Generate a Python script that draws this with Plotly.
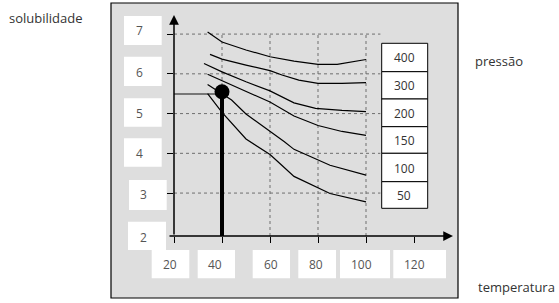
import plotly.graph_objects as go

# ---------------- data ----------------
pressures = ["400", "300", "200", "150", "100", "50"]

temp_400 = [34, 40, 50, 60, 70, 80, 88, 100]
sol_400 = [7.05, 6.8, 6.6, 6.43, 6.32, 6.24, 6.24, 6.36]

temp_300 = [35, 40, 50, 60, 65, 72, 80, 90, 100]
sol_300 = [6.49, 6.37, 6.22, 6.08, 5.97, 5.84, 5.76, 5.76, 5.78]

temp_200 = [32.5, 40, 50, 60, 70, 79, 90, 100]
sol_200 = [6.26, 6.05, 5.8, 5.57, 5.27, 5.13, 5.08, 5.05]

temp_150 = [34, 40, 50, 60, 70, 80, 90, 100]
sol_150 = [5.99, 5.83, 5.55, 5.29, 4.94, 4.7, 4.55, 4.45]

temp_100 = [34, 40, 44, 50, 60, 66, 70, 85, 100]
sol_100 = [5.73, 5.5, 5.34, 4.99, 4.56, 4.29, 4.1, 3.7, 3.45]

temp_50 = [34, 40, 50, 60, 64, 70, 85, 100]
sol_50 = [5.5, 5.03, 4.36, 3.97, 3.75, 3.42, 2.99, 2.78]

x_tick_labels = ["20", "40", "60", "80", "100", "120"]
x_tick_values = [20, 40, 60, 80, 100, 120]
y_tick_labels = ["7", "6", "5", "4", "3", "2"]
y_tick_values = [3, 4, 5, 6, 7]
grid_x = [40, 60, 80, 100]
grid_y = [3, 4, 5, 6, 7]

point_temp = 40
point_sol = 5.55
ref_sol = 5.49

x_title = "temperatura"
y_title = "solubilidade"
legend_title = "pressão"

# ---------------- layout helpers (pixel geometry) ----------------
W, H = 559, 303
PL, PR, PT, PB = 174, 453, 15, 236
x_range = [20, 136.25]
y_range = [1.92, 7.48]
grid_end_x = 106


def X(p):
    return (p - PL) / (PR - PL)


def Y(p):
    return (PB - p) / (PB - PT)


fig = go.Figure()

# dotted grid
gx, gy = [], []
for v in grid_y:
    gx += [x_range[0], grid_end_x, None]
    gy += [v, v, None]
for v in grid_x:
    gx += [v, v, None]
    gy += [y_range[0], max(grid_y), None]
fig.add_trace(go.Scatter(x=gx, y=gy, mode="lines",
                         line=dict(color="#6e6e6e", width=1, dash="dot"),
                         hoverinfo="skip", showlegend=False))

# reference lines to the point
fig.add_trace(go.Scatter(x=[x_range[0], point_temp], y=[ref_sol, ref_sol], mode="lines",
                         line=dict(color="#555555", width=1.5), showlegend=False))
fig.add_trace(go.Scatter(x=[point_temp, point_temp], y=[y_range[0], point_sol], mode="lines",
                         line=dict(color="black", width=4), showlegend=False))

curves = [(temp_400, sol_400), (temp_300, sol_300), (temp_200, sol_200),
          (temp_150, sol_150), (temp_100, sol_100), (temp_50, sol_50)]
for (tx, sy), name in zip(curves, pressures):
    fig.add_trace(go.Scatter(x=tx, y=sy, mode="lines", name=name,
                             line=dict(color="black", width=1.2),
                             showlegend=False))

fig.add_trace(go.Scatter(x=[point_temp], y=[point_sol], mode="markers",
                         marker=dict(color="black", size=15), showlegend=False))

shapes = []
# grey panel
shapes.append(dict(type="rect", xref="paper", yref="paper", x0=X(111), x1=X(458), y0=Y(298), y1=Y(3),
                   fillcolor="#dedede", line=dict(color="black", width=1.2), layer="below"))

# tick label boxes
y_boxes = [(124, 161.7, 16, 45), (124, 161.7, 56.7, 86), (124, 161.7, 98.3, 126.7),
           (124, 161.7, 138.3, 166.7), (129, 166.7, 180, 210), (128, 166, 221.7, 250)]
y_text_pos = [(139.3, 30.5), (139.5, 72), (139.3, 113), (139.3, 153.5), (143.7, 194.5), (143.3, 237)]
x_boxes = [(151.7, 189.3), (197.7, 235), (252.7, 290), (298.3, 336), (340, 390), (393.3, 446)]
x_text_pos = [170, 215.3, 270.5, 315.7, 361, 414]
x_box_y = (250, 278.3)

for (x0, x1, y0, y1) in y_boxes:
    shapes.append(dict(type="rect", xref="paper", yref="paper", x0=X(x0), x1=X(x1), y0=Y(y1), y1=Y(y0),
                       fillcolor="white", line=dict(width=0), layer="below"))
for (x0, x1) in x_boxes:
    shapes.append(dict(type="rect", xref="paper", yref="paper", x0=X(x0), x1=X(x1),
                       y0=Y(x_box_y[1]), y1=Y(x_box_y[0]),
                       fillcolor="white", line=dict(width=0), layer="below"))

# pressure boxes
leg_x0, leg_x1 = 381.7, 427.7
leg_rows = [43.3, 71.7, 99, 126.7, 153.3, 181.7, 208.3]
for i in range(len(pressures)):
    shapes.append(dict(type="rect", xref="paper", yref="paper", x0=X(leg_x0), x1=X(leg_x1),
                       y0=Y(leg_rows[i + 1]), y1=Y(leg_rows[i]),
                       fillcolor="white", line=dict(color="black", width=1), layer="above"))

annotations = []
num_font = dict(family="Open Sans", size=12, color="#555555")
txt_font = dict(family="Open Sans", size=13, color="#333333")
for lab, (tx, ty) in zip(y_tick_labels, y_text_pos):
    annotations.append(dict(text=lab, x=X(tx), y=Y(ty), xref="paper", yref="paper",
                            showarrow=False, font=num_font, xanchor="center", yanchor="middle"))
for lab, tx in zip(x_tick_labels, x_text_pos):
    annotations.append(dict(text=lab, x=X(tx), y=Y(264.5), xref="paper", yref="paper",
                            showarrow=False, font=num_font, xanchor="center", yanchor="middle"))
for i, lab in enumerate(pressures):
    cy = (leg_rows[i] + leg_rows[i + 1]) / 2 + 0.5
    annotations.append(dict(text=lab, x=X(404), y=Y(cy), xref="paper", yref="paper",
                            showarrow=False, font=dict(family="Open Sans", size=12, color="#333333"),
                            xanchor="center", yanchor="middle"))

annotations.append(dict(text=y_title, x=X(45.5), y=Y(18), xref="paper", yref="paper",
                        showarrow=False, font=txt_font, xanchor="center", yanchor="middle"))
annotations.append(dict(text=legend_title, x=X(499), y=Y(61), xref="paper", yref="paper",
                        showarrow=False, font=txt_font, xanchor="center", yanchor="middle"))
annotations.append(dict(text=x_title, x=X(516), y=Y(287), xref="paper", yref="paper",
                        showarrow=False, font=txt_font, xanchor="center", yanchor="middle"))

# axis arrows
annotations.append(dict(text="", x=x_range[0], y=y_range[1], ax=x_range[0], ay=y_range[0],
                        xref="x", yref="y", axref="x", ayref="y", showarrow=True,
                        arrowhead=2, arrowsize=1.3, arrowwidth=1.5, arrowcolor="black", standoff=0))
annotations.append(dict(text="", x=x_range[1], y=y_range[0], ax=x_range[0] - 2.5, ay=y_range[0],
                        xref="x", yref="y", axref="x", ayref="y", showarrow=True,
                        arrowhead=2, arrowsize=1.3, arrowwidth=1.5, arrowcolor="black", standoff=0))

fig.update_layout(
    width=W, height=H,
    margin=dict(l=PL, r=W - PR, t=PT, b=H - PB, pad=0, autoexpand=False),
    paper_bgcolor="white", plot_bgcolor="rgba(0,0,0,0)",
    shapes=shapes, annotations=annotations, showlegend=False,
    xaxis=dict(range=x_range, tickvals=x_tick_values, ticks="outside", ticklen=6, tickcolor="black",
               tickwidth=1, showticklabels=False, showgrid=False, zeroline=False, showline=False,
               fixedrange=True),
    yaxis=dict(range=y_range, tickvals=y_tick_values, ticks="outside", ticklen=6, tickcolor="black",
               tickwidth=1, showticklabels=False, showgrid=False, zeroline=False, showline=False,
               fixedrange=True),
)

fig.write_html("out.html", config=dict(displayModeBar=False))
